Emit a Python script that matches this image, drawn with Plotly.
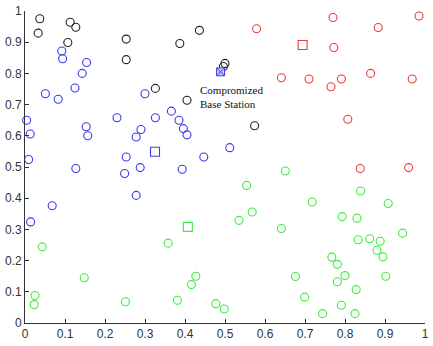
import plotly.graph_objects as go

# Tick labels
tick_vals = [0, 0.1, 0.2, 0.3, 0.4, 0.5, 0.6, 0.7, 0.8, 0.9, 1]
tick_text = ["0", "0.1", "0.2", "0.3", "0.4", "0.5", "0.6", "0.7", "0.8", "0.9", "1"]

# Cluster 1 (black)
black_x = [0.037, 0.033, 0.113, 0.127, 0.107, 0.253, 0.253, 0.387, 0.436, 0.326, 0.405, 0.574, 0.500, 0.496]
black_y = [0.975, 0.929, 0.964, 0.948, 0.899, 0.910, 0.844, 0.896, 0.938, 0.752, 0.714, 0.632, 0.832, 0.822]

# Cluster 2 (blue)
blue_x = [0.092, 0.094, 0.154, 0.143, 0.051, 0.083, 0.125, 0.004, 0.013, 0.009, 0.153, 0.157, 0.127,
          0.230, 0.300, 0.326, 0.290, 0.278, 0.253, 0.249, 0.288, 0.366, 0.385, 0.396, 0.405, 0.393,
          0.447, 0.512, 0.068, 0.014, 0.278]
blue_y = [0.872, 0.847, 0.835, 0.800, 0.735, 0.717, 0.753, 0.650, 0.606, 0.524, 0.629, 0.600, 0.495,
          0.658, 0.735, 0.658, 0.620, 0.596, 0.532, 0.479, 0.498, 0.679, 0.650, 0.623, 0.603, 0.493,
          0.532, 0.562, 0.376, 0.324, 0.409]

# Cluster 3 (red)
red_x = [0.579, 0.770, 0.883, 0.985, 0.772, 0.641, 0.710, 0.765, 0.791, 0.864, 0.968, 0.807, 0.838, 0.959]
red_y = [0.943, 0.979, 0.947, 0.984, 0.883, 0.786, 0.782, 0.757, 0.782, 0.800, 0.782, 0.653, 0.495, 0.498]

# Cluster 4 (green)
green_x = [0.043, 0.148, 0.025, 0.023, 0.251, 0.358, 0.381, 0.416, 0.427, 0.477, 0.651, 0.554, 0.839,
           0.718, 0.908, 0.568, 0.535, 0.793, 0.830, 0.641, 0.944, 0.833, 0.862, 0.888, 0.880, 0.895,
           0.767, 0.781, 0.676, 0.800, 0.902, 0.781, 0.828, 0.699, 0.791, 0.498, 0.744, 0.825]
green_y = [0.244, 0.145, 0.088, 0.059, 0.068, 0.256, 0.073, 0.123, 0.150, 0.062, 0.487, 0.441, 0.423,
           0.388, 0.383, 0.356, 0.329, 0.341, 0.336, 0.303, 0.288, 0.267, 0.270, 0.262, 0.233, 0.212,
           0.211, 0.188, 0.149, 0.152, 0.150, 0.132, 0.107, 0.083, 0.057, 0.045, 0.030, 0.030]

# Cluster heads (squares)
head_x = [0.325, 0.694, 0.407]
head_y = [0.549, 0.891, 0.308]
head_colors = ["#3a3aee", "#ee3a3a", "#3aee3a"]

# Base station
bs_x = [0.489]
bs_y = [0.805]
bs_label = "Compromized<br>Base Station"

fig = go.Figure()

def circles(x, y, color):
    fig.add_trace(go.Scatter(x=x, y=y, mode="markers", cliponaxis=False,
                             marker=dict(symbol="circle-open", size=8, color=color, line=dict(width=1.1))))

circles(black_x, black_y, "#222222")
circles(blue_x, blue_y, "#3a3aee")
circles(red_x, red_y, "#ee3a3a")
circles(green_x, green_y, "#3aee3a")

fig.add_trace(go.Scatter(x=head_x, y=head_y, mode="markers", cliponaxis=False,
                         marker=dict(symbol="square-open", size=9, color=head_colors, line=dict(width=1.1))))
fig.add_trace(go.Scatter(x=bs_x, y=bs_y, mode="markers", cliponaxis=False,
                         marker=dict(symbol="square-x", size=8, color="#c8c8f4",
                                     line=dict(width=1, color="#3a3aee"))))

fig.add_annotation(x=0.432, y=0.772, xref="x", yref="y", text=bs_label, showarrow=False,
                   xanchor="left", yanchor="top", align="left",
                   font=dict(family="Liberation Serif, Times New Roman, serif", size=11, color="#111"))

axis_common = dict(range=[0, 1], tickmode="array", tickvals=tick_vals, ticktext=tick_text,
                   showgrid=False, zeroline=False,
                   showline=True, linecolor="#333", linewidth=1,
                   ticks="inside", ticklen=4, tickcolor="#333", tickangle=0,
                   tickfont=dict(family="Liberation Sans, Arial, sans-serif", size=12, color="#333"),
                   mirror=False)

fig.update_xaxes(**axis_common)
fig.update_yaxes(**axis_common)

fig.update_layout(width=433, height=346, showlegend=False,
                  margin=dict(l=23.5, r=4.5, t=6, b=22),
                  plot_bgcolor="white", paper_bgcolor="white")

fig.write_html("out.html")
